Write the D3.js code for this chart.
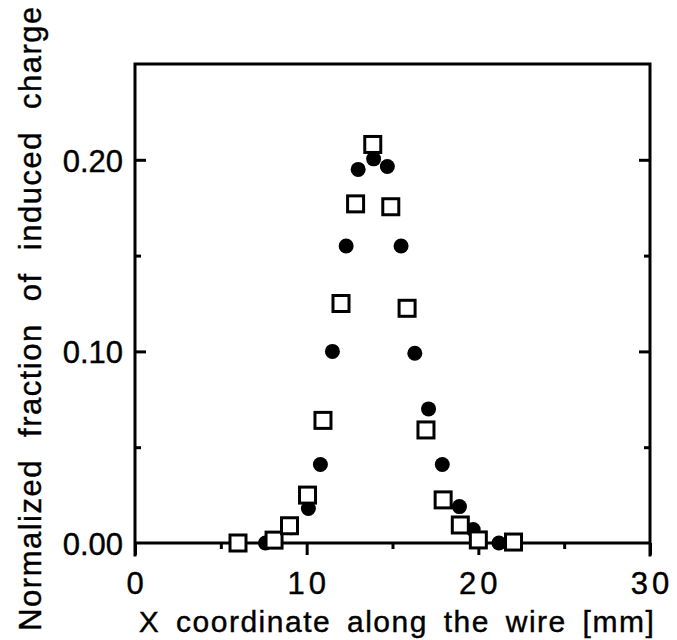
<!DOCTYPE html>
<html>
<head>
<meta charset="utf-8">
<style>
body { margin: 0; background: #fff; }
text { font-family: "Liberation Sans", Arial, sans-serif; fill: #000; stroke: #000; stroke-width: 0.4; }
.tick line { stroke: #000; stroke-width: 3; }
</style>
</head>
<body>
<script src="https://cdn.jsdelivr.net/npm/d3@7"></script>
<script>
var width = 677
var height = 640

// filled circles
var circleX = [7.6, 9.1, 10.1, 10.8, 11.5, 12.3, 13.0, 13.9, 14.7, 15.5, 16.3, 17.1, 17.9, 18.9, 19.7, 21.2]
var circleY = [0.000, 0.008, 0.018, 0.041, 0.100, 0.155, 0.195, 0.2005, 0.1965, 0.155, 0.099, 0.070, 0.041, 0.019, 0.007, 0.000]

// open squares
var squareX = [6.0, 8.1, 9.0, 10.05, 10.95, 12.0, 12.85, 13.85, 14.9, 15.85, 16.95, 17.95, 18.95, 20.0, 22.05]
var squareY = [0.000, 0.0015, 0.009, 0.025, 0.064, 0.125, 0.177, 0.208, 0.1755, 0.1225, 0.059, 0.0225, 0.0094, 0.0016, 0.0005]

var xMajor = [0, 10, 20, 30]
var xMinor = [5, 15, 25]
var yMajor = [0, 0.10, 0.20]
var yMinor = [0.05, 0.15]

var x = d3.scaleLinear().domain([0, 30]).range([135, 650])
var y = d3.scaleLinear().domain([0, 0.25]).range([543, 64])

var svg = d3.select('body').append('svg')
    .attr('width', width)
    .attr('height', height)

// x ticks (outward, down)
svg.append('g')
    .attr('transform', 'translate(0,' + y(0) + ')')
    .call(d3.axisBottom(x).tickValues(xMajor).tickSize(12).tickFormat(''))
    .call(function (g) { g.select('.domain').remove() })
svg.append('g')
    .attr('transform', 'translate(0,' + y(0) + ')')
    .call(d3.axisBottom(x).tickValues(xMinor).tickSize(6).tickFormat(''))
    .call(function (g) { g.select('.domain').remove() })

// y ticks (inward), both sides
svg.append('g')
    .attr('transform', 'translate(' + x(0) + ',0)')
    .call(d3.axisLeft(y).tickValues(yMajor.slice(1)).tickSize(-11).tickFormat(''))
    .call(function (g) { g.select('.domain').remove() })
svg.append('g')
    .attr('transform', 'translate(' + x(0) + ',0)')
    .call(d3.axisLeft(y).tickValues(yMinor).tickSize(-6).tickFormat(''))
    .call(function (g) { g.select('.domain').remove() })
svg.append('g')
    .attr('transform', 'translate(' + x(30) + ',0)')
    .call(d3.axisRight(y).tickValues(yMajor.slice(1)).tickSize(-11).tickFormat(''))
    .call(function (g) { g.select('.domain').remove() })
svg.append('g')
    .attr('transform', 'translate(' + x(30) + ',0)')
    .call(d3.axisRight(y).tickValues(yMinor).tickSize(-6).tickFormat(''))
    .call(function (g) { g.select('.domain').remove() })

// frame
var frame = svg.append('g').attr('stroke', '#000').attr('stroke-width', 3).attr('fill', 'none')
frame.append('path')
    .attr('d', 'M' + x(0) + ',' + (y(0) + 12) + 'V' + y(0.25) + 'H' + x(30) + 'V' + (y(0) + 12))
    .attr('stroke-linecap', 'square')
frame.append('line')
    .attr('x1', x(0)).attr('x2', x(30))
    .attr('y1', y(0)).attr('y2', y(0))

// tick labels
svg.selectAll('.xlab').data(xMajor).enter().append('text')
    .attr('x', function (d) { return x(d) + 2 })
    .attr('y', 594)
    .attr('text-anchor', 'middle')
    .attr('font-size', 31)
    .attr('letter-spacing', 4)
    .text(function (d) { return d })

svg.selectAll('.ylab').data(yMajor).enter().append('text')
    .attr('x', 123)
    .attr('y', function (d) { return y(d) + 12 })
    .attr('text-anchor', 'end')
    .attr('font-size', 31)
    .text(function (d) { return d.toFixed(2) })

// axis titles
svg.append('text')
    .attr('x', 397)
    .attr('y', 632)
    .attr('text-anchor', 'middle')
    .attr('font-size', 30)
    .attr('letter-spacing', 1.5)
    .attr('word-spacing', 6)
    .text('X coordinate along the wire [mm]')

svg.append('text')
    .attr('transform', 'translate(41,318) rotate(-90)')
    .attr('text-anchor', 'middle')
    .attr('font-size', 31)
    .attr('letter-spacing', 1.5)
    .attr('word-spacing', 12)
    .text('Normalized fraction of induced charge')

// marks
var circles = circleX.map(function (v, i) { return { x: v, y: circleY[i] } })
var squares = squareX.map(function (v, i) { return { x: v, y: squareY[i] } })

svg.selectAll('circle.pt').data(circles).enter().append('circle')
    .attr('class', 'pt')
    .attr('cx', function (d) { return x(d.x) })
    .attr('cy', function (d) { return y(d.y) })
    .attr('r', 7.5)
    .attr('fill', '#000')

svg.selectAll('rect.pt').data(squares).enter().append('rect')
    .attr('class', 'pt')
    .attr('x', function (d) { return x(d.x) - 8 })
    .attr('y', function (d) { return y(d.y) - 8 })
    .attr('width', 16)
    .attr('height', 16)
    .attr('fill', '#fff')
    .attr('stroke', '#000')
    .attr('stroke-width', 3)
</script>
</body>
</html>
